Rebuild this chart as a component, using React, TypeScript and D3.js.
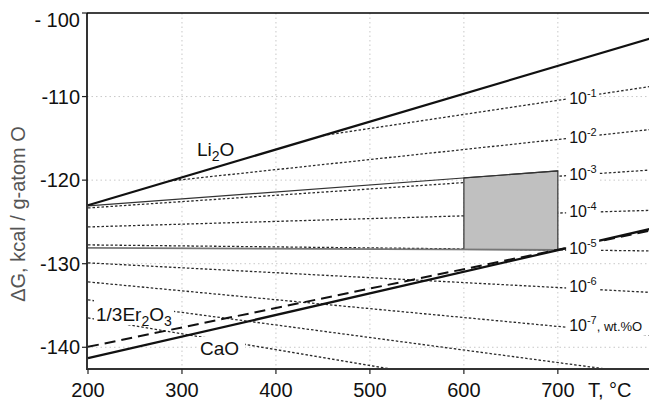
import React from "react";
import * as d3 from "d3";

// ---- data ----
const xTickValues = [200, 300, 400, 500, 600, 700];
const yTickValues = [-100, -110, -120, -130, -140];
const yTickLabels = ["- 100", "-110", "-120", "-130", "-140"];
const gridX = [300, 400, 500, 600, 700];
const gridY = [-110, -120, -130, -140];

const li2oT = [200, 800];
const li2oG = [-123.0, -103.0];
const caoT = [200, 800];
const caoG = [-141.3, -125.8];
const er2o3T = [200, 800];
const er2o3G = [-139.95, -126.0];

const isoExp = ["-1", "-2", "-3", "-4", "-5", "-6", "-7", "-8", "-9"];
const isoLabelled = [true, true, true, true, true, true, true, false, false];
const isoStartT = [450, 287, 200, 200, 200, 200, 200, 200, 200];
const isoStartG = [-114.66, -120.1, -123.33, -125.6, -127.75, -129.9, -132.18, -134.33, -136.48];
const isoEndT = [800, 800, 800, 800, 800, 800, 800, 800, 800];
const isoEndG = [-108.77, -113.93, -118.78, -123.61, -128.47, -133.44, -138.57, -143.33, -147.88];

const windowT = [200, 700];
const windowTopG = [-123.09, -118.9];
const windowBottomG = [-128.1, -128.35];
const boxT = [600, 700];

// ---- layout ----
const W = 649;
const H = 400;
const L = 87;
const R = 649;
const TOP = 13;
const BOT = 369;
const FONT = "'Liberation Sans', Arial, Helvetica, sans-serif";

export default function App() {
  const x = d3.scaleLinear().domain([200, 797]).range([88, 649]);
  const y = d3.scaleLinear().domain([-142.6, -100]).range([BOT, TOP]);

  const line = d3
    .line<[number, number]>()
    .x((d) => x(d[0]))
    .y((d) => y(d[1]));

  const pts = (ts: number[], gs: number[]) => ts.map((t, i) => [t, gs[i]] as [number, number]);

  const topFn = d3.scaleLinear().domain(windowT).range(windowTopG);
  const botFn = d3.scaleLinear().domain(windowT).range(windowBottomG);
  const boxArea = d3
    .area<number>()
    .x((t) => x(t))
    .y0((t) => y(botFn(t)))
    .y1((t) => y(topFn(t)));

  const labelT = 712;
  const isoLabelY = isoExp.map((_, i) => {
    const f = d3.scaleLinear().domain([isoStartT[i], isoEndT[i]]).range([isoStartG[i], isoEndG[i]]);
    return y(f(705)) - 1.5;
  });

  return (
    <svg
      width={W}
      height={H}
      style={{ position: "absolute", left: 0, top: 0, background: "#fff" }}
      fontFamily={FONT}
    >
      <defs>
        <clipPath id="plot">
          <rect x={L} y={TOP} width={R - L} height={BOT - TOP} />
        </clipPath>
      </defs>
      <rect x={0} y={0} width={W} height={H} fill="#fff" />

      {/* grid */}
      <g stroke="#c8c8c8" strokeWidth={1} strokeDasharray="1.5,3">
        {gridX.map((t) => (
          <line key={"gx" + t} x1={x(t)} x2={x(t)} y1={TOP} y2={BOT} />
        ))}
        {gridY.map((g) => (
          <line key={"gy" + g} x1={L} x2={R} y1={y(g)} y2={y(g)} />
        ))}
      </g>

      <g clipPath="url(#plot)">
        {/* iso-concentration lines */}
        {isoExp.map((e, i) => (
          <path
            key={"iso" + e}
            d={line(pts([isoStartT[i], isoEndT[i]], [isoStartG[i], isoEndG[i]])) || ""}
            fill="none"
            stroke="#2a2a2a"
            strokeWidth={1.3}
            strokeDasharray="2.5,2"
          />
        ))}

        {/* shaded window */}
        <path d={boxArea(boxT) || ""} fill="#c0c0c0" stroke="#333" strokeWidth={1.2} />
        <path d={line(pts(windowT, windowTopG)) || ""} fill="none" stroke="#333" strokeWidth={1.2} />
        <path d={line(pts(windowT, windowBottomG)) || ""} fill="none" stroke="#777" strokeWidth={1.8} />

        {/* oxide lines */}
        <path d={line(pts(li2oT, li2oG)) || ""} fill="none" stroke="#111" strokeWidth={2.2} />
        <path d={line(pts(caoT, caoG)) || ""} fill="none" stroke="#111" strokeWidth={2.2} />
        <path
          d={line(pts(er2o3T, er2o3G)) || ""}
          fill="none"
          stroke="#111"
          strokeWidth={2}
          strokeDasharray="11,6"
        />

        {/* label backgrounds */}
        {isoExp.map((e, i) =>
          isoLabelled[i] ? (
            <rect
              key={"bg" + e}
              x={x(labelT) - 3}
              y={isoLabelY[i] - 11}
              width={i === 6 ? R - x(labelT) + 3 : 33}
              height={21}
              fill="#fff"
            />
          ) : null
        )}
        <rect x={94} y={300} width={80} height={25} fill="#fff" />
        <rect x={198} y={337} width={47} height={22} fill="#fff" />
      </g>

      {/* iso labels */}
      {isoExp.map((e, i) =>
        isoLabelled[i] ? (
          <text key={"lab" + e} x={x(labelT)} y={isoLabelY[i] + 6} fontSize={16} fill="#111">
            10
            <tspan fontSize={11} dy={-7}>
              {e}
            </tspan>
            {i === 6 ? (
              <tspan fontSize={13} dy={7}>
                , wt.%O
              </tspan>
            ) : null}
          </text>
        ) : null
      )}

      {/* oxide labels */}
      <text x={197} y={156} fontSize={19} fill="#111">
        Li<tspan fontSize={14} dy={5}>2</tspan>
        <tspan dy={-5}>O</tspan>
      </text>
      <text x={96} y={321} fontSize={19} fill="#111">
        1/3Er<tspan fontSize={14} dy={5}>2</tspan>
        <tspan dy={-5}>O</tspan>
        <tspan fontSize={14} dy={5}>3</tspan>
      </text>
      <text x={200} y={355} fontSize={19} fill="#111">
        CaO
      </text>

      {/* axes */}
      <line x1={L} x2={R} y1={TOP} y2={TOP} stroke="#000" strokeWidth={1.6} />
      <line x1={L} x2={L} y1={TOP} y2={BOT + 1} stroke="#000" strokeWidth={1.6} />
      <line x1={L} x2={R} y1={BOT} y2={BOT} stroke="#333" strokeWidth={2.2} />

      {xTickValues.map((t) => (
        <g key={"xt" + t}>
          <line x1={x(t)} x2={x(t)} y1={BOT} y2={BOT + 5} stroke="#222" strokeWidth={1.2} />
          <text x={x(t)} y={397} fontSize={20} textAnchor="middle" fill="#111">
            {t}
          </text>
        </g>
      ))}
      <text x={588} y={397} fontSize={20} fill="#111">
        T, °C
      </text>

      {yTickValues.map((g, i) => (
        <g key={"yt" + g}>
          <line x1={L - 5} x2={L} y1={y(g)} y2={y(g)} stroke="#222" strokeWidth={1.2} />
          <text
            x={80}
            y={y(g) + (i === 0 ? 7 : 0)}
            dy="0.35em"
            fontSize={20}
            textAnchor="end"
            fill="#111"
          >
            {yTickLabels[i]}
          </text>
        </g>
      ))}

      <text
        transform={`translate(25,214) rotate(-90)`}
        textAnchor="middle"
        fontSize={20}
        fill="#555"
      >
        ΔG, kcal / g-atom O
      </text>
    </svg>
  );
}
